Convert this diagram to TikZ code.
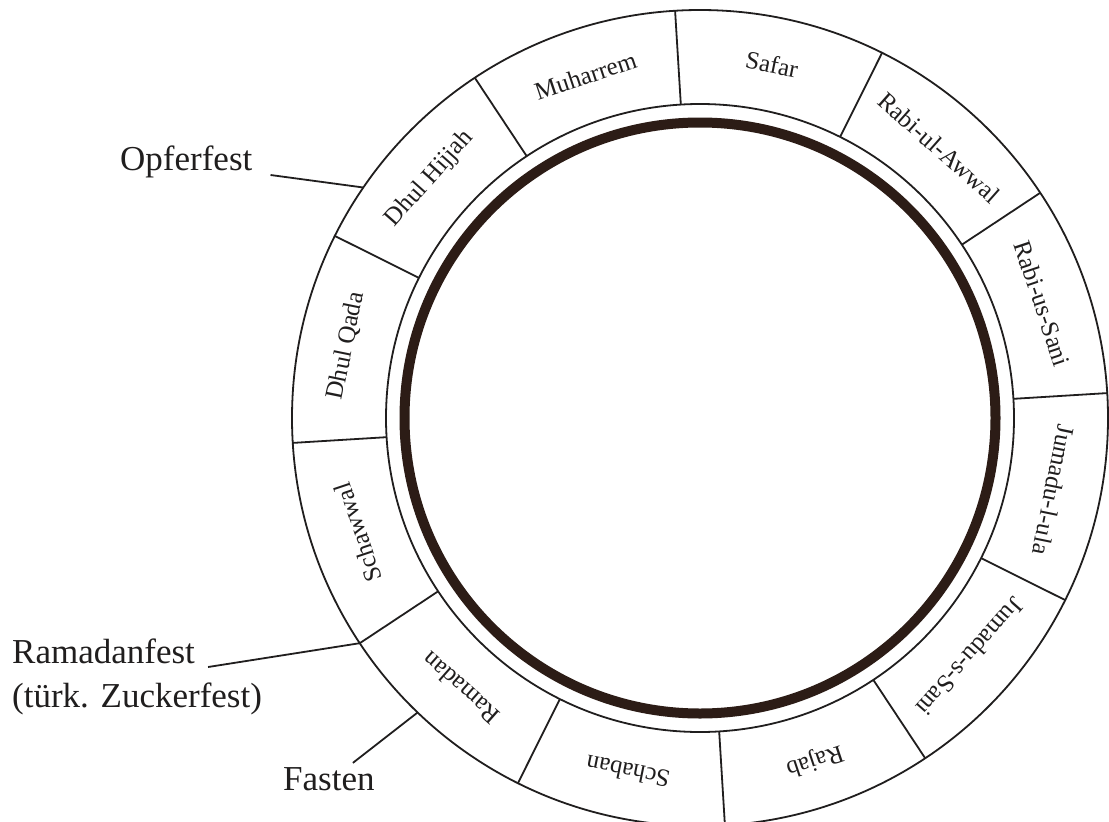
\documentclass[tikz,border=0pt]{standalone}
\usepackage{fontspec}
\setmainfont{Liberation Serif}
\usetikzlibrary{positioning}
\definecolor{dInk}{RGB}{32,30,30}
\definecolor{dBand}{RGB}{44,28,22}
\tikzset{
  rim/.style={draw=dInk, line width=1.8pt},
  band/.style={draw=dBand, line width=10pt},
  month/.style={font=\fontsize{25}{30}\selectfont, text=dInk, inner sep=0pt},
  fest/.style={font=\fontsize{35}{42}\selectfont, text=dInk, inner sep=0pt,
               anchor=base west},
  pin/.style={draw=dInk, line width=1.8pt},
}

\begin{document}
\begin{tikzpicture}[x=1pt, y=1pt]
  \useasboundingbox (0,0) rectangle (1109,-822);
  \fill[white] (0,0) rectangle (1109,-822);
  \coordinate (c) at (700,-418);

  \begin{scope}[shift={(c)}]
    % ---- wheel: outer rim, inner rim, heavy band ----
    \draw[rim] (0,0) circle (408);
    \draw[rim] (0,0) circle (314);
    \draw[band] (0,0) circle (295.5);
    \foreach \k in {0,...,11}{ \draw[rim] (3.5+30*\k:314) -- (3.5+30*\k:408); }

    % ---- month names, clockwise from the top ----
    \foreach \name [count=\i] in {Muharrem, Safar, Rabi-ul-Awwal, Rabi-us-Sani,
        Jumadu-l-ula, Jumadu-s-Sani, Rajab, Schaban, Ramadan, Schawwal,
        Dhul Qada, Dhul Hijjah}{
      \pgfmathsetmacro{\a}{108.5-30*(\i-1)}
      \node[month, rotate=\a-90] (m\i) at (\a:361) {\name};
    }

    % ---- points on the rim ----
    \coordinate (popf)  at (145.6:408);
    \coordinate (pram)  at (-146.5:408);
    \coordinate (pfast) at (-133.8:408);
  \end{scope}

  % ---- feast labels ----
  \node[fest] (opf)  at (120,-170) {Opferfest};
  \node[fest] (ramf) at (12,-663) {Ramadanfest};
  \node[fest] (zuck) at ([yshift=-44]ramf.base west) {(türk. Zuckerfest)};
  \node[fest] (fast) at (283,-790) {Fasten};

  \draw[pin] ([xshift=18,yshift=-5]opf.base east) -- (popf);
  \draw[pin] ([xshift=13,yshift=-4]ramf.base east) -- (pram);
  \draw[pin] ([xshift=24,yshift=4]fast.north) -- (pfast);

\end{tikzpicture}
\end{document}
